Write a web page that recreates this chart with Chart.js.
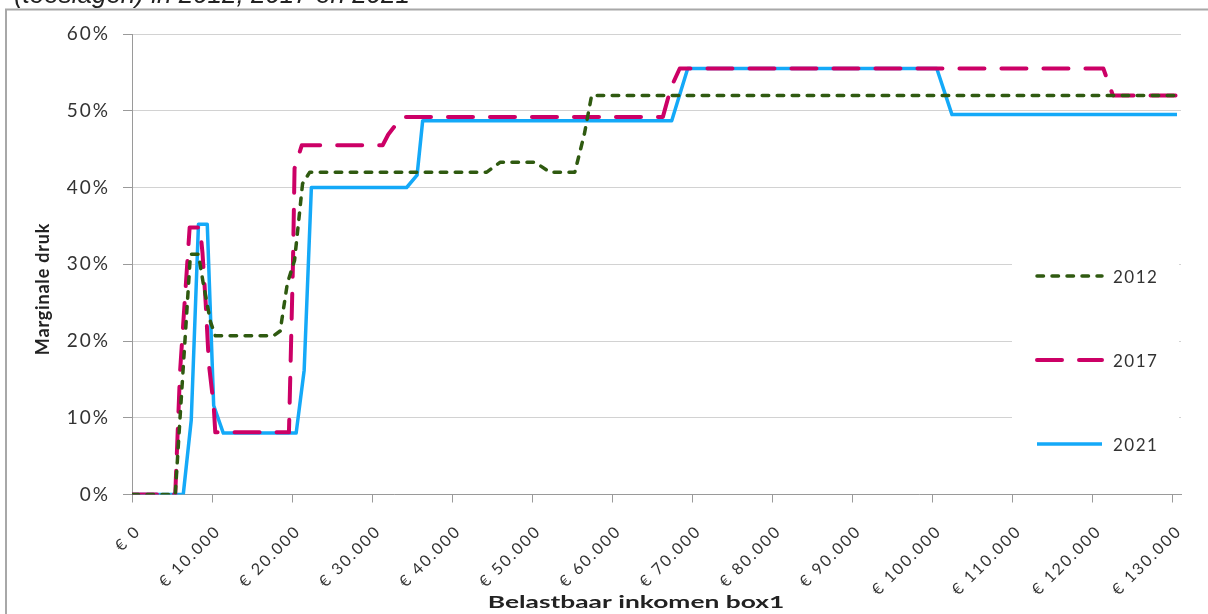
<!DOCTYPE html>
<html>
<head>
<meta charset="utf-8">
<script src="https://cdn.jsdelivr.net/npm/chart.js@4"></script>
<style>
  html, body { margin: 0; padding: 0; background: #fff; }
  #wrap { width: 1208px; height: 614px; }
</style>
</head>
<body>
<div id="wrap"><canvas id="chart"></canvas></div>
<script>
// taxable income (euro) breakpoints and marginal pressure (%) per year
const income2012 = [0, 5400, 6000, 7300, 8300, 8900, 9800, 10400, 17700, 18500, 19400, 20300, 21300, 22200, 44300, 46000, 50300, 52200, 55300, 56500, 57400, 130500];
const rate2012   = [0, 0, 10, 31.3, 31.3, 27.5, 22.5, 20.7, 20.7, 21.3, 27.5, 30.5, 40.5, 42, 42, 43.3, 43.3, 42, 42, 47, 52, 52];

const income2017 = [0, 5400, 6000, 6700, 7200, 8500, 8800, 9200, 9600, 10200, 10400, 19600, 20100, 20300, 21200, 31300, 32000, 33700, 66300, 67300, 68400, 121300, 122500, 130500];
const rate2017   = [0, 0, 16, 27, 34.8, 34.8, 31.5, 25, 17, 11.6, 8.1, 8.1, 30, 42.5, 45.5, 45.5, 46.9, 49.2, 49.2, 53, 55.5, 55.5, 52, 52];

const income2021 = [0, 6400, 7400, 8300, 9400, 10200, 11400, 20500, 21500, 22400, 34300, 35600, 36300, 67400, 69400, 100500, 102400, 130500];
const rate2021   = [0, 0, 9.7, 35.2, 35.2, 11.6, 8, 8, 16.2, 40, 40, 41.6, 48.7, 48.7, 55.5, 55.5, 49.5, 49.5];

const years = ['2012', '2017', '2021'];
const xTickValues = [0, 10000, 20000, 30000, 40000, 50000, 60000, 70000, 80000, 90000, 100000, 110000, 120000, 130000];
const yTickValues = [0, 10, 20, 30, 40, 50, 60];

const headerText = '(toeslagen) in 2012, 2017 en 2021';
const xTitle = 'Belastbaar inkomen box1';
const yTitle = 'Marginale druk';

const labelColor = '#333333';
const axisColor = '#9a9a9a';

function toPoints(xs, ys) {
    return xs.map((x, i) => ({ x: x, y: ys[i] }));
}

function euro(v) {
    return '€ ' + String(v).replace(/\B(?=(\d{3})+(?!\d))/g, '.');
}

// frame, titles and the legend box on the right
const decorations = {
    id: 'decorations',
    beforeDraw(chart) {
        chart.ctx.letterSpacing = '2px';
    },
    afterDraw(chart) {
        const ctx = chart.ctx;
        ctx.save();
        ctx.letterSpacing = '0px';

        // outer frame (top and left edges)
        ctx.strokeStyle = '#a8a8a8';
        ctx.lineWidth = 2;
        ctx.beginPath();
        ctx.moveTo(6, 614);
        ctx.lineTo(6, 9.5);
        ctx.lineTo(1208, 9.5);
        ctx.stroke();

        // heading, mostly above the frame
        ctx.fillStyle = '#222';
        ctx.font = 'italic 26px "Liberation Sans", Arial, sans-serif';
        ctx.textAlign = 'right';
        ctx.textBaseline = 'alphabetic';
        ctx.fillText(headerText, 410, 3);

        // y axis title
        ctx.save();
        ctx.translate(43, 289);
        ctx.rotate(-Math.PI / 2);
        ctx.letterSpacing = '0.8px';
        ctx.font = 'bold 18px Lato, sans-serif';
        ctx.fillStyle = '#222';
        ctx.textAlign = 'center';
        ctx.textBaseline = 'middle';
        ctx.fillText(yTitle, 0, 0);
        ctx.restore();

        // x axis title
        ctx.save();
        ctx.translate(636, 603);
        ctx.scale(1.55, 1);
        ctx.font = 'bold 17px Lato, sans-serif';
        ctx.fillStyle = '#222';
        ctx.textAlign = 'center';
        ctx.textBaseline = 'middle';
        ctx.fillText(xTitle, 0, 0);
        ctx.restore();

        // legend
        ctx.fillStyle = '#fff';
        ctx.fillRect(1012, 240, 167, 235);
        const rows = [276, 360, 444];
        chart.data.datasets.forEach((ds, i) => {
            const y = rows[i];
            ctx.strokeStyle = ds.borderColor;
            ctx.lineWidth = ds.borderWidth;
            ctx.lineCap = ds.borderCapStyle;
            ctx.setLineDash(ds.borderDash);
            ctx.beginPath();
            ctx.moveTo(1037, y);
            ctx.lineTo(1102, y);
            ctx.stroke();
            ctx.setLineDash([]);
            ctx.letterSpacing = '1.5px';
            ctx.font = '17px Lato, sans-serif';
            ctx.fillStyle = labelColor;
            ctx.textAlign = 'left';
            ctx.textBaseline = 'middle';
            ctx.fillText(ds.label, 1113, y + 2);
        });
        ctx.restore();
    }
};

const ctx = document.getElementById('chart').getContext('2d');
const chart = new Chart(ctx, {
    type: 'line',
    data: {
        datasets: [
            {
                label: years[0],
                data: toPoints(income2012, rate2012),
                borderColor: '#2f5a10',
                borderWidth: 3.5,
                borderDash: [6.5, 8.5],
                borderCapStyle: 'round',
                borderJoinStyle: 'round',
                pointRadius: 0,
                tension: 0
            },
            {
                label: years[1],
                data: toPoints(income2017, rate2017),
                borderColor: '#cc0066',
                borderWidth: 4,
                borderDash: [25, 17],
                borderCapStyle: 'round',
                borderJoinStyle: 'round',
                pointRadius: 0,
                tension: 0
            },
            {
                label: years[2],
                data: toPoints(income2021, rate2021),
                borderColor: '#14a9f8',
                borderWidth: 3.5,
                borderDash: [],
                borderCapStyle: 'butt',
                borderJoinStyle: 'round',
                pointRadius: 0,
                tension: 0
            }
        ]
    },
    options: {
        responsive: true,
        maintainAspectRatio: false,
        animation: false,
        layout: { padding: { left: 0, top: 34, right: 27, bottom: 0 } },
        plugins: {
            legend: { display: false },
            tooltip: { enabled: false }
        },
        scales: {
            x: {
                type: 'linear',
                min: 0,
                max: 131000,
                afterBuildTicks: scale => { scale.ticks = xTickValues.map(v => ({ value: v })); },
                afterFit: scale => { scale.height = 119.5; },
                ticks: {
                    minRotation: 45,
                    maxRotation: 45,
                    padding: 19,
                    labelOffset: 6,
                    color: labelColor,
                    font: { family: 'Lato', size: 16 },
                    callback: v => euro(v)
                },
                grid: { drawOnChartArea: false, tickLength: 8, color: axisColor },
                border: { color: axisColor }
            },
            y: {
                min: 0,
                max: 60,
                afterBuildTicks: scale => { scale.ticks = yTickValues.map(v => ({ value: v })); },
                afterFit: scale => { scale.width = 132; },
                ticks: {
                    padding: 13,
                    color: labelColor,
                    font: { family: 'Lato', size: 19 },
                    callback: v => v + '%'
                },
                grid: { color: '#d2d2d2', tickColor: axisColor, tickLength: 9 },
                border: { color: axisColor }
            }
        }
    },
    plugins: [decorations]
});
</script>
</body>
</html>
